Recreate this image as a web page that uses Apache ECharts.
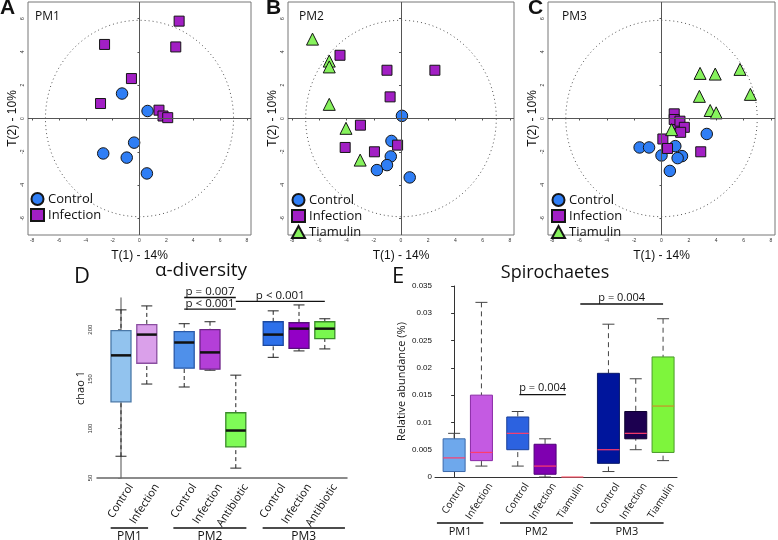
<!DOCTYPE html>
<html lang="en">
<head>
    <meta charset="UTF-8">
    <title>PM panels</title>
    <script src="https://cdn.jsdelivr.net/npm/echarts@6/dist/echarts.min.js"></script>
    <style>
        html, body { margin: 0; padding: 0; background: #fff; }
        #app { width: 778px; height: 540px; }
    </style>
</head>
<body>
<div id="app"></div>
<script>
    // ---- scatter data (T1, T2) ----
    var pm1Control = [[-1.3, 1.5], [0.6, 0.45], [-0.4, -1.45], [-2.7, -2.1], [-0.95, -2.35], [0.55, -3.3]];
    var pm1Infection = [[2.95, 5.85], [-2.6, 4.45], [2.7, 4.3], [-0.6, 2.4], [-2.9, 0.9], [1.45, 0.5], [1.75, 0.15], [2.1, 0.05]];

    var pm2Control = [[0.07, 0.16], [-0.7, -1.35], [-0.75, -2.28], [-1.03, -2.8], [-1.77, -3.1], [0.64, -3.54]];
    var pm2Infection = [[-4.48, 3.8], [-1.03, 2.9], [2.49, 2.9], [-0.8, 1.3], [-2.98, -0.4], [-0.25, -1.6], [-4.1, -1.74], [-1.95, -2.0]];
    var pm2Tiamulin = [[-6.5, 4.77], [-5.27, 3.45], [-5.27, 3.1], [-5.27, 0.85], [-4.04, -0.59], [-3.0, -2.5]];

    var pm3Control = [[-1.6, -1.74], [-0.91, -1.74], [0, -2.22], [1.01, -1.66], [1.5, -2.26], [1.18, -2.38], [0.61, -3.15], [3.31, -0.93]];
    var pm3Infection = [[1.1, -0.3], [0.93, 0.28], [0.93, -0.06], [1.35, -0.16], [1.67, -0.53], [1.4, -0.83], [0.1, -1.23], [0.44, -1.8], [2.87, -2.0]];
    var pm3Tiamulin = [[2.82, 2.71], [3.93, 2.67], [5.74, 2.95], [2.77, 1.33], [6.5, 1.45], [3.56, 0.48], [4.0, 0.34], [0.74, -0.67]];

    var ellipseRadius = [7, 5.9];
    var scatterXTicks = [-8, -6, -4, -2, 0, 2, 4, 6, 8];
    var scatterYTicks = [-6, -4, -2, 0, 2, 4, 6];

    // ---- D: chao 1 boxes [min, q1, median, q3, max] ----
    var divLabels = ['Control', 'Infection', 'Control', 'Infection', 'Antibiotic', 'Control', 'Infection', 'Antibiotic'];
    var divPos = [0, 1, 2.45, 3.45, 4.45, 5.9, 6.9, 7.9];
    var divStats = [
        [72, 127, 174, 199, 220],
        [145, 166, 195, 205, 224],
        [142, 161, 187, 198, 206],
        [159, 160, 177, 200, 208],
        [60, 81.5, 98, 116, 154],
        [172, 184, 195, 208, 219],
        [178.5, 181, 201, 207, 225],
        [180.5, 191, 201, 208, 211]
    ];
    var divTicks = [50, 100, 150, 200];
    var divSig = [[2.45, 4.45, 232.5], [2.45, 4.45, 220.7], [4.45, 7.9, 228.5]];
    var divSigText = ['p = 0.007', 'p < 0.001', 'p < 0.001'];
    var divGroups = [[-0.4, 1.05], [2.03, 4.86], [5.49, 8.68]];

    // ---- E: Spirochaetes boxes ----
    var spiLabels = ['Control', 'Infection', 'Control', 'Infection', 'Tiamulin', 'Control', 'Infection', 'Tiamulin'];
    var spiPos = [0, 1, 2.33, 3.33, 4.33, 5.65, 6.65, 7.65];
    var spiStats = [
        [0.001, 0.001, 0.0035, 0.007, 0.008],
        [0.002, 0.003, 0.0045, 0.015, 0.032],
        [0.002, 0.005, 0.008, 0.011, 0.012],
        [0, 0.0005, 0.002, 0.006, 0.007],
        [0, 0, 0, 0, 0],
        [0.001, 0.0025, 0.005, 0.019, 0.028],
        [0.005, 0.007, 0.008, 0.012, 0.018],
        [0.003, 0.0045, 0.013, 0.022, 0.029]
    ];
    var spiSig = [[2.39, 4.09, 0.0151], [4.62, 7.65, 0.0317]];
    var spiSigText = ['p = 0.004', 'p = 0.004'];
    var spiGroups = [[-0.63, 1.07], [1.68, 4.35], [4.98, 7.67]];

    var groupNames = ['PM1', 'PM2', 'PM3'];

    // ---- styles ----
    var FONT = 'Liberation Sans, Arial, sans-serif';
    var FONT2 = 'Open Sans, Noto Sans, sans-serif';
    var colCtrl = '#2f7ef5', colInf = '#a21fc4', colTia = '#86f25c';

    var divFill = ['#92c3ee', '#daa0ea', '#4f90ea', '#b43fd8', '#7ffb57', '#2d70ea', '#9300c6', '#79f74f'];
    var divBorder = ['#4a78a8', '#8a4ea0', '#2a5aa8', '#6e2488', '#3a8a2a', '#1b48a0', '#55107a', '#3a8a2a'];

    var spiFill = ['#6ea8ec', '#c45ae2', '#2c62e0', '#7f00b0', '#ff5570', '#00159c', '#1c0050', '#7ef53c'];
    var spiBorder = ['#3a68aa', '#8a2aa6', '#1a3f9a', '#4e0078', '#ff5570', '#0a1a6a', '#0d0030', '#4a9a2a'];
    var spiMedian = ['#ff3c6c', '#ff3c6c', '#ff3c6c', '#ff3c6c', '#ff5a6e', '#ff3c6c', '#ff3c6c', '#c8902a'];

    function rows(pos, stats) {
        var out = [];
        for (var i = 0; i < pos.length; i++) {
            out.push([pos[i]].concat(stats[i]));
        }
        return out;
    }

    function boxRenderer(cfg) {
        return function (params, api) {
            var i = params.dataIndex;
            var x = api.value(0);
            var lo = api.coord([x, api.value(1)]);
            var q1 = api.coord([x, api.value(2)]);
            var md = api.coord([x, api.value(3)]);
            var q3 = api.coord([x, api.value(4)]);
            var hi = api.coord([x, api.value(5)]);
            var base = api.coord([x, cfg.yMin]);
            var cx = lo[0], hw = cfg.boxW / 2, cw = cfg.capW / 2;
            var wStyle = {stroke: cfg.whisker, lineWidth: 1, lineDash: cfg.dash};
            var cStyle = {stroke: cfg.whisker, lineWidth: 1};
            var kids = [];
            if (hi[1] < q3[1] - 0.5) {
                kids.push({type: 'line', shape: {x1: cx, y1: hi[1], x2: cx, y2: q3[1]}, style: wStyle});
                kids.push({type: 'line', shape: {x1: cx - cw, y1: hi[1], x2: cx + cw, y2: hi[1]}, style: cStyle});
            }
            if (lo[1] > q1[1] + 0.5) {
                kids.push({type: 'line', shape: {x1: cx, y1: lo[1], x2: cx, y2: q1[1]}, style: wStyle});
                kids.push({type: 'line', shape: {x1: cx - cw, y1: lo[1], x2: cx + cw, y2: lo[1]}, style: cStyle});
            }
            if (q1[1] - q3[1] > 0.5) {
                kids.push({
                    type: 'rect',
                    shape: {x: cx - hw, y: q3[1], width: cfg.boxW, height: q1[1] - q3[1]},
                    style: {fill: cfg.fill[i], stroke: cfg.border[i], lineWidth: cfg.borderW}
                });
            }
            kids.push({
                type: 'line',
                shape: {x1: cx - hw, y1: md[1], x2: cx + hw, y2: md[1]},
                style: {stroke: cfg.median[i], lineWidth: cfg.medianW}
            });
            kids.push({
                type: 'text',
                x: cx + cfg.labelDx,
                y: base[1] + cfg.labelDy,
                rotation: cfg.labelRot * Math.PI / 180,
                style: {
                    text: cfg.labels[i], align: 'right', verticalAlign: 'middle',
                    fontSize: cfg.labelSize, fontFamily: FONT2, fill: '#111'
                }
            });
            return {type: 'group', children: kids};
        };
    }

    function sigRenderer(texts, size, gap) {
        return function (params, api) {
            var p0 = api.coord([api.value(0), api.value(2)]);
            var p1 = api.coord([api.value(1), api.value(2)]);
            return {
                type: 'group',
                children: [
                    {type: 'line', shape: {x1: p0[0], y1: p0[1], x2: p1[0], y2: p1[1]}, style: {stroke: '#111', lineWidth: 1.3}},
                    {
                        type: 'text', x: (p0[0] + p1[0]) / 2, y: p0[1] - gap,
                        style: {text: texts[params.dataIndex], align: 'center', verticalAlign: 'bottom', fontSize: size, lineHeight: size, fontFamily: FONT2, fill: '#111'}
                    }
                ]
            };
        };
    }

    function groupRenderer(yMin, lineDy, textDy, size) {
        return function (params, api) {
            var p0 = api.coord([api.value(0), yMin]);
            var p1 = api.coord([api.value(1), yMin]);
            return {
                type: 'group',
                children: [
                    {type: 'line', shape: {x1: p0[0], y1: p0[1] + lineDy, x2: p1[0], y2: p1[1] + lineDy}, style: {stroke: '#111', lineWidth: 1.3}},
                    {
                        type: 'text', x: (p0[0] + p1[0]) / 2, y: p0[1] + textDy,
                        style: {text: groupNames[params.dataIndex], align: 'center', verticalAlign: 'middle', fontSize: size, fontFamily: FONT2, fill: '#111'}
                    }
                ]
            };
        };
    }

    function ellipseItem(params, api) {
        var c = api.coord([api.value(0), api.value(1)]);
        var s = api.size([api.value(2), api.value(3)]);
        return {
            type: 'ellipse',
            shape: {cx: c[0], cy: c[1], rx: s[0], ry: s[1]},
            style: {fill: 'none', stroke: '#555', lineWidth: 1, lineDash: [1, 3]}
        };
    }

    var scatterGrids = [
        {left: 28, top: 2, width: 223, height: 233},
        {left: 288, top: 2, width: 226, height: 233},
        {left: 548, top: 2, width: 227, height: 233}
    ];

    var grids = [], xAxes = [], yAxes = [], series = [], legends = [];
    scatterGrids.forEach(function (g, k) {
        grids.push({left: g.left, top: g.top, width: g.width, height: g.height, show: true, borderColor: '#777', borderWidth: 1, backgroundColor: '#fff'});
        xAxes.push({
            type: 'value', gridIndex: k, min: -8.3, max: 8.3,
            name: 'T(1) - 14%', nameLocation: 'middle', nameGap: 15,
            nameTextStyle: {fontFamily: FONT, fontSize: 12, color: '#111'},
            axisLine: {show: false},
            axisTick: {show: true, length: 2, customValues: scatterXTicks, lineStyle: {color: '#555'}},
            axisLabel: {fontSize: 5, color: '#333', margin: 3, customValues: scatterXTicks, fontFamily: FONT},
            splitLine: {show: false}
        });
        yAxes.push({
            type: 'value', gridIndex: k, min: -7, max: 7,
            name: 'T(2) - 10%', nameLocation: 'middle', nameGap: 8,
            nameTextStyle: {fontFamily: FONT, fontSize: 12, color: '#111'},
            axisLine: {show: false},
            axisTick: {show: true, length: 2, customValues: scatterYTicks, lineStyle: {color: '#555'}},
            axisLabel: {fontSize: 5, color: '#333', margin: 3, rotate: 90, customValues: scatterYTicks, fontFamily: FONT},
            splitLine: {show: false}
        });
        series.push({
            type: 'custom', xAxisIndex: k, yAxisIndex: k, silent: true, z: 1,
            renderItem: ellipseItem,
            data: [[0, 0, ellipseRadius[0], ellipseRadius[1]]],
            markLine: {
                silent: true, symbol: 'none', animation: false,
                label: {show: false},
                lineStyle: {color: '#555', width: 1, type: 'solid'},
                data: [{xAxis: 0}, {yAxis: 0}]
            }
        });
    });

    function scatterSeries(name, k, data, symbol, size, color) {
        return {
            type: 'scatter', name: name, xAxisIndex: k, yAxisIndex: k, z: 3,
            symbol: symbol, symbolSize: size, data: data,
            itemStyle: {color: color, borderColor: '#151515', borderWidth: 1, opacity: 1}
        };
    }

    series.push(scatterSeries('Control', 0, pm1Control, 'circle', 11.5, colCtrl));
    series.push(scatterSeries('Infection', 0, pm1Infection, 'rect', 10, colInf));
    series.push(scatterSeries('Control', 1, pm2Control, 'circle', 11.5, colCtrl));
    series.push(scatterSeries('Infection', 1, pm2Infection, 'rect', 10, colInf));
    series.push(scatterSeries('Tiamulin', 1, pm2Tiamulin, 'triangle', 12, colTia));
    series.push(scatterSeries('Control', 2, pm3Control, 'circle', 11.5, colCtrl));
    series.push(scatterSeries('Infection', 2, pm3Infection, 'rect', 10, colInf));
    series.push(scatterSeries('Tiamulin', 2, pm3Tiamulin, 'triangle', 12, colTia));

    var legendBase = {
        orient: 'vertical', itemWidth: 13, itemHeight: 12, itemGap: 2,
        textStyle: {fontFamily: FONT2, fontSize: 13, color: '#111', padding: [0, 0, 0, -1]},
        selectedMode: false, padding: 0
    };
    legends.push(Object.assign({left: 30, top: 192, data: ['Control', 'Infection']}, legendBase));
    legends.push(Object.assign({left: 291, top: 193, data: ['Control', 'Infection', 'Tiamulin']}, legendBase));
    legends.push(Object.assign({left: 551, top: 193, data: ['Control', 'Infection', 'Tiamulin']}, legendBase));

    // ---- D grid (index 3) ----
    grids.push({left: 97, top: 298, width: 250, height: 180});
    xAxes.push({
        type: 'value', gridIndex: 3, min: -0.93, max: 8.76,
        axisLine: {show: true, lineStyle: {color: '#666', width: 1.5}},
        axisTick: {show: false}, axisLabel: {show: false}, splitLine: {show: false}
    });
    yAxes.push({
        type: 'value', gridIndex: 3, min: 50, max: 232,
        name: 'chao 1', nameLocation: 'middle', nameGap: 5,
        nameTextStyle: {fontFamily: FONT2, fontSize: 11, color: '#111'},
        axisLine: {show: true, lineStyle: {color: '#888', width: 1.5}},
        axisTick: {show: true, length: 3, customValues: divTicks, lineStyle: {color: '#777'}},
        axisLabel: {fontSize: 6, color: '#333', rotate: 90, margin: 4, customValues: divTicks, fontFamily: FONT},
        splitLine: {show: false}
    });
    series.push({
        type: 'custom', xAxisIndex: 3, yAxisIndex: 3, clip: false, silent: true,
        renderItem: boxRenderer({
            yMin: 50, boxW: 20, capW: 11, fill: divFill, border: divBorder, borderW: 1.3,
            median: ['#111', '#111', '#111', '#111', '#111', '#111', '#111', '#111'], medianW: 2.5,
            whisker: '#222', dash: [4, 3], labels: divLabels, labelDx: 10, labelDy: 7, labelRot: 57, labelSize: 11
        }),
        encode: {x: 0, y: [1, 2, 3, 4, 5]},
        data: rows(divPos, divStats)
    });
    series.push({
        type: 'custom', xAxisIndex: 3, yAxisIndex: 3, clip: false, silent: true,
        renderItem: sigRenderer(divSigText, 11.5, 0),
        encode: {x: [0, 1], y: 2},
        data: divSig
    });
    series.push({
        type: 'custom', xAxisIndex: 3, yAxisIndex: 3, clip: false, silent: true,
        renderItem: groupRenderer(50, 50, 59, 12),
        encode: {x: [0, 1]},
        data: divGroups
    });

    // ---- E grid (index 4) ----
    grids.push({left: 435, top: 286, width: 242, height: 191});
    xAxes.push({
        type: 'value', gridIndex: 4, min: -0.7, max: 8.16,
        axisLine: {show: true, lineStyle: {color: '#333', width: 1}},
        axisTick: {show: false}, axisLabel: {show: false}, splitLine: {show: false}
    });
    yAxes.push({
        type: 'value', gridIndex: 4, min: 0, max: 0.035, interval: 0.005,
        name: 'Relative abundance (%)', nameLocation: 'middle', nameGap: 28,
        nameTextStyle: {fontFamily: FONT2, fontSize: 11, color: '#111'},
        axisLine: {show: true, lineStyle: {color: '#333', width: 1}},
        axisTick: {show: true, length: 3, lineStyle: {color: '#333'}},
        axisLabel: {fontSize: 8, color: '#111', margin: 3, fontFamily: FONT},
        splitLine: {show: false}
    });
    series.push({
        type: 'custom', xAxisIndex: 4, yAxisIndex: 4, clip: false, silent: true,
        renderItem: boxRenderer({
            yMin: 0, boxW: 22, capW: 12, fill: spiFill, border: spiBorder, borderW: 1,
            median: spiMedian, medianW: 1.2,
            whisker: '#444', dash: [5, 4], labels: spiLabels, labelDx: 9, labelDy: 7, labelRot: 57, labelSize: 10
        }),
        encode: {x: 0, y: [1, 2, 3, 4, 5]},
        data: rows(spiPos, spiStats)
    });
    series.push({
        type: 'custom', xAxisIndex: 4, yAxisIndex: 4, clip: false, silent: true,
        renderItem: sigRenderer(spiSigText, 11, 1),
        encode: {x: [0, 1], y: 2},
        data: spiSig
    });
    series.push({
        type: 'custom', xAxisIndex: 4, yAxisIndex: 4, clip: false, silent: true,
        renderItem: groupRenderer(0, 46, 54.5, 11),
        encode: {x: [0, 1]},
        data: spiGroups
    });

    function label(text, left, top, size, weight, family, align) {
        return {
            text: text, left: left, top: top, padding: 0, textAlign: align || 'left',
            textStyle: {fontSize: size, fontWeight: weight, fontFamily: family, color: '#111'}
        };
    }

    var titles = [
        label('A', 0, -2, 21, 'bold', FONT),
        label('B', 266, -2, 21, 'bold', FONT),
        label('C', 528, -2, 21, 'bold', FONT),
        label('PM1', 35, 11, 12, 'normal', FONT2),
        label('PM2', 299, 11, 12, 'normal', FONT2),
        label('PM3', 562, 11, 12, 'normal', FONT2),
        label('D', 74, 266, 22, 'normal', FONT2),
        label('E', 392, 266, 22, 'normal', FONT2),
        label('α-diversity', 201, 261, 19, 'normal', FONT2, 'center'),
        label('Spirochaetes', 555, 264, 18, 'normal', FONT2, 'center')
    ];

    var option = {
        animation: false,
        backgroundColor: '#fff',
        title: titles,
        legend: legends,
        grid: grids,
        xAxis: xAxes,
        yAxis: yAxes,
        series: series
    };

    var myChart = echarts.init(document.getElementById('app'), null, {renderer: 'canvas'});
    myChart.setOption(option);
</script>
</body>
</html>
